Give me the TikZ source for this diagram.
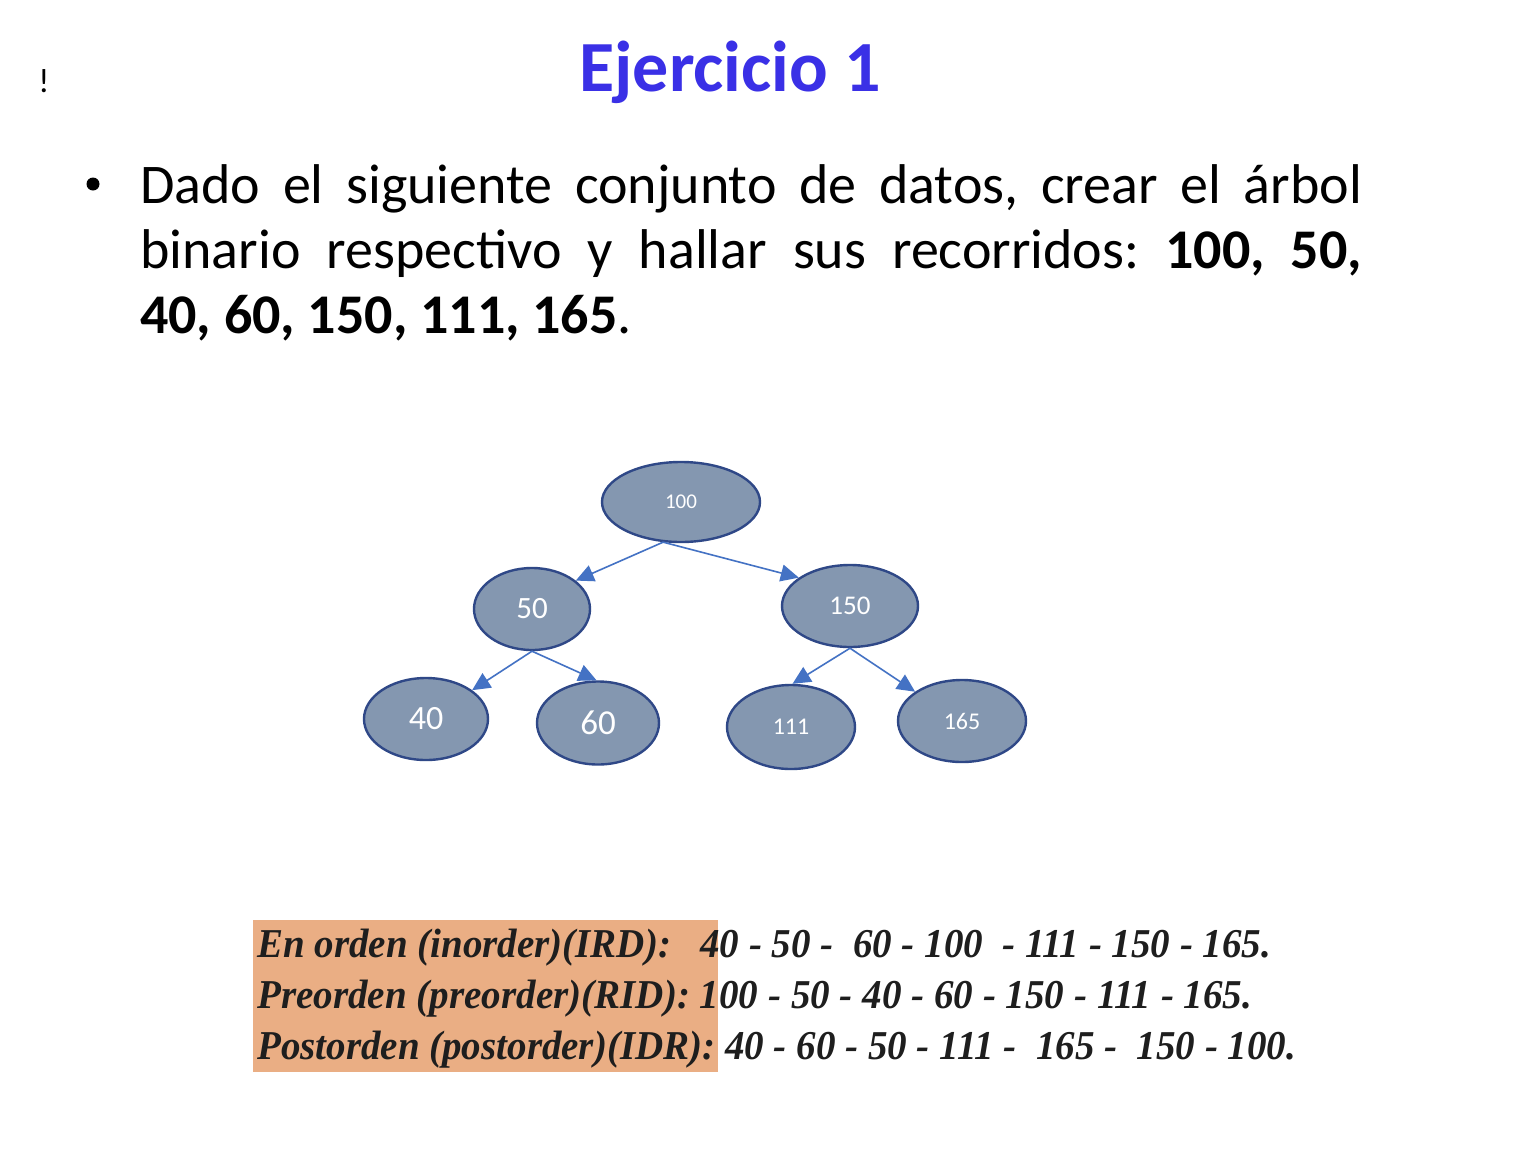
\documentclass[tikz,border=0pt]{standalone}
\usepackage{fontspec}
\setmainfont{Carlito}
\newfontfamily\tnr{Liberation Serif}
\usetikzlibrary{arrows.meta,shapes.geometric}
\definecolor{titleblue}{RGB}{58,48,230}
\definecolor{nodefill}{RGB}{132,151,176}
\definecolor{nodeedge}{RGB}{47,72,135}
\definecolor{arrowblue}{RGB}{68,114,196}
\definecolor{boxorange}{RGB}{234,174,132}
\definecolor{txtdark}{RGB}{30,30,30}
\tikzset{
  treenode/.style={ellipse,draw=nodeedge,fill=nodefill,line width=2.4pt,inner sep=0pt,text=white},
  treearrow/.style={draw=arrowblue,line width=1.6pt,-{Triangle[length=18pt,width=17pt]}},
  travline/.style={anchor=base west,inner sep=0pt,text=txtdark},
}
\frenchspacing
\begin{document}
\begin{tikzpicture}[x=1pt,y=-1pt]
\useasboundingbox[fill=white] (0,0) rectangle (1534,1162);
% stray mark
\node[anchor=base,inner sep=0pt,font=\fontsize{34}{38}\selectfont] (mark) at (44,92) {!};
% title
\node[anchor=base,inner sep=0pt,text=titleblue,font=\fontsize{72}{80}\selectfont\bfseries] (title) at (730,91) {Ejercicio 1};
% bullet text
\node[inner sep=0pt,circle,fill=black,minimum size=13pt] (bullet) at (93,184) {};
\node[anchor=base west,inner sep=0pt,font=\fontsize{56}{64}\selectfont] (l1) at (140,203)
  {\makebox[1222pt][s]{Dado el siguiente conjunto de datos, crear el árbol}};
\node[anchor=base west,inner sep=0pt,font=\fontsize{56}{64}\selectfont] (l2) at (140,268)
  {\makebox[1222pt][s]{binario respectivo y hallar sus recorridos: \textbf{100,} \textbf{50,}}};
\node[anchor=base west,inner sep=0pt,font=\fontsize{56}{64}\selectfont] (l3) at (140,333)
  {\textbf{40, 60, 150, 111, 165}.};
% tree
\node[treenode,minimum width=158pt,minimum height=80pt,font=\fontsize{21}{24}\selectfont] (n100) at (681,502) {100};
\node[treenode,minimum width=116pt,minimum height=82pt,font=\fontsize{31}{34}\selectfont] (n50) at (532,609) {50};
\node[treenode,minimum width=136pt,minimum height=82pt,font=\fontsize{27}{30}\selectfont] (n150) at (850,606) {150};
\node[treenode,minimum width=124pt,minimum height=82pt,font=\fontsize{34}{38}\selectfont] (n40) at (426,719) {40};
\node[treenode,minimum width=122pt,minimum height=83pt,font=\fontsize{35}{38}\selectfont] (n60) at (598,723) {60};
\node[treenode,minimum width=128pt,minimum height=84pt,font=\fontsize{24}{28}\selectfont] (n111) at (791,727) {111};
\node[treenode,minimum width=128pt,minimum height=82pt,font=\fontsize{24}{28}\selectfont] (n165) at (962,721) {165};
\draw[treearrow] (n100.246) -- (n50.33);
\draw[treearrow] (n100.246) -- (n150.151);
\draw[treearrow] (n50.south) -- (n40.32);
\draw[treearrow] (n50.south) -- (n60.92);
\draw[treearrow] (n150.south) -- (n111.88);
\draw[treearrow] (n150.south) -- (n165.148);
% traversals
\node[fill=boxorange,inner sep=0pt,minimum width=465pt,minimum height=152pt,anchor=north west] (box) at (253,920) {};
\node[travline] (t1) at (257,957) {\resizebox{1014pt}{\height}{\fontsize{41}{46}\selectfont\tnr\bfseries\itshape En orden (inorder)(IRD):\ \ \ 40 - 50 -\ \ 60 - 100\ \ - 111 - 150 - 165.}};
\node[travline] (t2) at (257,1008) {\resizebox{995pt}{\height}{\fontsize{41}{46}\selectfont\tnr\bfseries\itshape Preorden (preorder)(RID): 100 - 50 - 40 - 60 - 150 - 111 - 165.}};
\node[travline] (t3) at (257,1059) {\resizebox{1039pt}{\height}{\fontsize{41}{46}\selectfont\tnr\bfseries\itshape Postorden (postorder)(IDR): 40 - 60 - 50 - 111 -\ \ 165 -\ \ 150 - 100.}};
\end{tikzpicture}
\end{document}
